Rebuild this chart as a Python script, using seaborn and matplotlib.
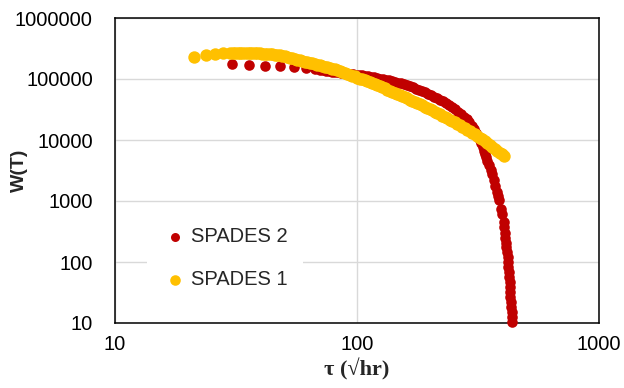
import matplotlib
matplotlib.use("Agg")
import matplotlib.pyplot as plt
import seaborn as sns
import pandas as pd

# SPADES 2: tau (sqrt hr) and W(tau)
spades2_tau = [30.44, 35.95, 41.68, 48.06, 54.91, 61.28, 67.08,
               70.32, 72.36, 74.45, 76.61, 78.83, 81.11, 83.46, 85.88, 88.37, 90.93,
               93.56, 96.27, 99.06, 101.9, 104.9, 108.0, 111.1, 114.3, 117.6, 121.0,
               124.5, 128.1, 131.8, 135.6, 139.6, 143.6, 147.8, 152.1, 156.5, 161.0,
               165.6, 170.4, 175.4, 180.5, 185.7, 191.1, 196.6, 202.3, 208.2, 214.2,
               220.4, 226.8, 233.3, 240.1, 247.1, 254.2, 261.6, 269.2, 277.0, 283.6,
               290.3, 297.3, 304.4, 310.2, 316.2, 320.8, 325.4, 330.1, 334.8, 338.0,
               341.2, 346.1, 351.1, 356.2, 361.3, 368.2, 373.5, 378.9, 382.5, 386.2,
               393.6, 397.4, 403.1, 406.0, 408.9, 410.8, 412.8, 414.7, 416.7, 418.7,
               420.7, 422.7, 424.8, 425.8, 426.8, 427.8, 428.8, 430.8, 432.9, 433.9,
               435.0, 436.0, 437.0]
spades2_w = [178700, 171400, 166300, 162500, 155900, 148900, 144500,
             140700, 138000, 135400, 133400, 131400, 129700, 128000, 126000, 124100, 122500,
             120900, 119100, 117300, 115700, 114200, 112000, 109900, 107900, 105900, 103900,
             101900, 99430, 97010, 94830, 92700, 90100, 87580, 84640, 81790, 78750,
             75820, 72720, 69740, 66510, 63430, 60270, 57260, 54090, 51100, 48460,
             45950, 43000, 40230, 37290, 34570, 31750, 29150, 26510, 24110, 21720,
             19570, 17140, 15010, 13140, 11510, 10080, 8822, 7581, 6513, 5813,
             5188, 4458, 3830, 3229, 2722, 2169, 1760, 1428, 1227, 1055,
             749.7, 620.0, 457.7, 371.5, 301.6, 249.5, 206.4, 174.0, 146.7, 121.4,
             100.4, 83.05, 68.7, 56.8, 47.0, 38.9, 32.2, 26.6, 22.0, 18.2,
             15.1, 12.5, 10.3]

# SPADES 1: tau (sqrt hr) and W(tau)
spades1_tau = [21.20, 23.77, 25.90, 27.95,
               29.87, 30.59, 31.32, 32.08, 32.85, 33.64, 34.45, 35.28, 36.12, 36.99,
               37.88, 38.79, 39.73, 40.68, 41.66, 42.66, 43.69, 44.74, 45.82, 46.92,
               48.05, 49.21, 50.39, 51.60, 52.84, 54.11, 55.41, 56.74, 58.11, 59.51,
               60.94, 62.41, 63.91, 65.45, 67.02, 68.63, 70.28, 71.97, 73.70, 75.47,
               77.29, 79.15, 81.05, 83.00, 85.00, 87.05, 89.14, 91.28, 93.48, 95.73,
               98.03, 100.4, 102.8, 105.3, 107.8, 110.4, 113.1, 115.8, 118.6, 121.4,
               124.3, 127.3, 130.4, 133.5, 136.7, 140.0, 143.4, 146.9, 150.4, 154.0,
               157.7, 161.5, 165.4, 169.4, 173.4, 177.6, 181.9, 186.2, 190.7, 195.3,
               200.0, 204.8, 209.7, 214.7, 219.9, 225.2, 230.6, 236.2, 241.9, 247.7,
               253.7, 259.8, 266.0, 272.4, 279.0, 285.7, 292.5, 299.6, 306.8, 314.2,
               321.7, 329.5, 337.4, 345.5, 353.8, 362.3, 371.0, 380.0, 389.1, 396.5,
               404.0]
spades1_w = [227800, 251300, 258100, 265100,
             268100, 268650, 269200, 269700, 270200, 269700, 269200, 268650, 268100, 267100,
             266100, 264600, 263100, 261100, 259100, 257150, 255200, 252300, 249500, 246700,
             243900, 239300, 234800, 229100, 223500, 218000, 212700, 207200, 201800, 197600,
             193500, 189200, 184900, 180700, 176600, 172400, 168200, 164100, 160100, 155900,
             151800, 147500, 143400, 139300, 135400, 130900, 126500, 122300, 118200, 114000,
             109900, 105800, 101900, 98650, 95550, 92350, 89250, 85760, 82410, 79050,
             75820, 72850, 69990, 67260, 64640, 61890, 59260, 56830, 54500, 52270,
             50140, 48000, 45950, 44070, 42270, 40470, 38740, 36950, 35240, 33600,
             32040, 30560, 29150, 27800, 26510, 25190, 23930, 22690, 21520, 20440,
             19420, 18420, 17470, 16500, 15590, 14730, 13910, 13120, 12370, 11640,
             10950, 10250, 9592, 8941, 8334, 7755, 7216, 6688, 6199, 5835,
             5492]

series_names = ["SPADES 2", "SPADES 1"]
series_colors = ["#C00000", "#FFC000"]

y_ticks = [10, 100, 1000, 10000, 100000, 1000000]
y_tick_labels = ["10", "100", "1000", "10000", "100000", "1000000"]
x_ticks = [10, 100, 1000]
x_tick_labels = ["10", "100", "1000"]

sns.set_style("white")
plt.rcParams["font.family"] = ["Liberation Sans", "DejaVu Sans"]

df2 = pd.DataFrame({"tau": spades2_tau, "W": spades2_w})
df1 = pd.DataFrame({"tau": spades1_tau, "W": spades1_w})

fig = plt.figure(figsize=(6.24, 3.88), dpi=100)
ax = fig.add_axes([115 / 624, 1 - 323 / 388, (599 - 115) / 624, (323 - 18) / 388])

ax.set_xscale("log")
ax.set_yscale("log")
ax.set_xlim(10, 1000)
ax.set_ylim(10, 1000000)

sns.scatterplot(data=df2, x="tau", y="W", ax=ax, color=series_colors[0], s=58,
                linewidth=0, label=series_names[0], clip_on=False, zorder=3)
sns.scatterplot(data=df1, x="tau", y="W", ax=ax, color=series_colors[1], s=80,
                linewidth=0, label=series_names[1], clip_on=False, zorder=4)

ax.set_xticks(x_ticks)
ax.set_xticklabels(x_tick_labels)
ax.set_yticks(y_ticks)
ax.set_yticklabels(y_tick_labels)
ax.minorticks_off()
ax.tick_params(axis="both", length=0, labelsize=14.5, colors="#000000")
ax.tick_params(axis="y", pad=16)
ax.tick_params(axis="x", pad=9)

ax.grid(True, which="major", color="#D9D9D9", linewidth=1.0)
ax.set_axisbelow(True)
for sp in ax.spines.values():
    sp.set_visible(True)
    sp.set_color("#000000")
    sp.set_linewidth(1.1)

ax.set_xlabel("τ (√hr)", fontsize=16, fontweight="bold",
              family=["Liberation Serif", "DejaVu Serif"], labelpad=3)
ax.set_ylabel("W(T)", fontsize=14, fontweight="bold")
ax.yaxis.set_label_coords((28 - 115) / 484, 0.5)

leg = ax.legend(loc="center left", bbox_to_anchor=(32 / 484, (323 - 258) / 305),
                frameon=True, facecolor="white", edgecolor="none", framealpha=1,
                fontsize=14.5, handletextpad=0.15, labelspacing=1.2,
                borderpad=0.75, handlelength=1.3, markerscale=0.85, borderaxespad=0)
leg.set_zorder(5)

fig.savefig("out.png", dpi=100)
